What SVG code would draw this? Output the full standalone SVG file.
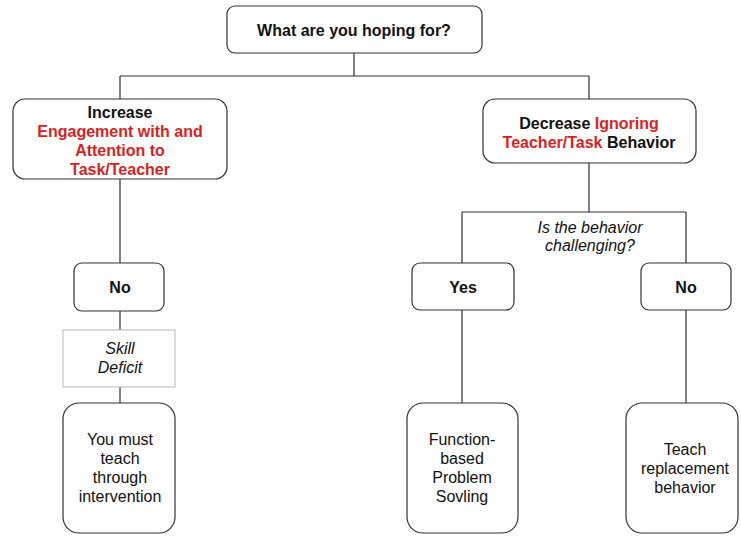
<svg xmlns="http://www.w3.org/2000/svg" width="741" height="536" viewBox="0 0 741 536">
  <style>
    .box { fill: #ffffff; stroke: #333333; stroke-width: 1.2; }
    .note { fill: #ffffff; stroke: #b7b7b7; stroke-width: 1; }
    .wire { fill: none; stroke: #333333; stroke-width: 1.2; }
    text { font-family: "Liberation Sans", Arial, sans-serif; font-size: 16px; fill: #111111; text-anchor: middle; }
    .b { font-weight: bold; }
    .i { font-style: italic; }
    .red { fill: #d81f1f; }
  </style>
  <rect width="741" height="536" fill="#ffffff"/>

  <!-- connectors -->
  <g id="connectors">
    <path class="wire" d="M354,53 V76 M120,76 H589 M120,76 V99 M589,76 V99"/>
    <path class="wire" d="M120,179 V263 M120,311 V330 M120,387 V403"/>
    <path class="wire" d="M589,163 V212 M462,212 H686 M462,212 V263 M686,212 V263"/>
    <path class="wire" d="M462,310 V403 M686,310 V403"/>
  </g>

  <g id="root">
    <rect class="box" x="227" y="6" width="255" height="47" rx="8"/>
    <text class="b" x="354" y="36">What are you hoping for?</text>
  </g>

  <g id="increase">
    <rect class="box" x="13" y="99" width="214" height="80" rx="12"/>
    <text class="b" x="120" y="118">Increase</text>
    <text class="b red" x="120" y="137">Engagement with and</text>
    <text class="b red" x="120" y="156">Attention to</text>
    <text class="b red" x="120" y="175">Task/Teacher</text>
  </g>

  <g id="decrease">
    <rect class="box" x="483" y="99" width="213" height="64" rx="12"/>
    <text class="b" x="589" y="129">Decrease <tspan class="red">Ignoring</tspan></text>
    <text class="b" x="589" y="148"><tspan class="red">Teacher/Task</tspan> Behavior</text>
  </g>

  <g id="question">
    <text class="i" x="590" y="233">Is the behavior</text>
    <text class="i" x="590" y="251">challenging?</text>
  </g>

  <g id="no-left">
    <rect class="box" x="74" y="263" width="90" height="48" rx="8"/>
    <text class="b" x="120" y="293">No</text>
  </g>

  <g id="yes">
    <rect class="box" x="412" y="263" width="102" height="47" rx="8"/>
    <text class="b" x="463" y="293">Yes</text>
  </g>

  <g id="no-right">
    <rect class="box" x="641" y="263" width="90" height="47" rx="8"/>
    <text class="b" x="686" y="293">No</text>
  </g>

  <g id="skill-deficit">
    <rect class="note" x="63" y="330" width="112" height="57"/>
    <text class="i" x="120" y="354">Skill</text>
    <text class="i" x="120" y="373">Deficit</text>
  </g>

  <g id="teach-intervention">
    <rect class="box" x="63" y="403" width="112" height="130" rx="16"/>
    <text x="120" y="445">You must</text>
    <text x="120" y="464">teach</text>
    <text x="120" y="483">through</text>
    <text x="120" y="502">intervention</text>
  </g>

  <g id="function-based">
    <rect class="box" x="407" y="403" width="111" height="130" rx="16"/>
    <text x="462" y="445">Function-</text>
    <text x="462" y="464">based</text>
    <text x="462" y="483">Problem</text>
    <text x="462" y="502">Sovling</text>
  </g>

  <g id="replacement">
    <rect class="box" x="626" y="403" width="112" height="130" rx="16"/>
    <text x="685" y="455">Teach</text>
    <text x="685" y="474">replacement</text>
    <text x="685" y="493">behavior</text>
  </g>
</svg>
